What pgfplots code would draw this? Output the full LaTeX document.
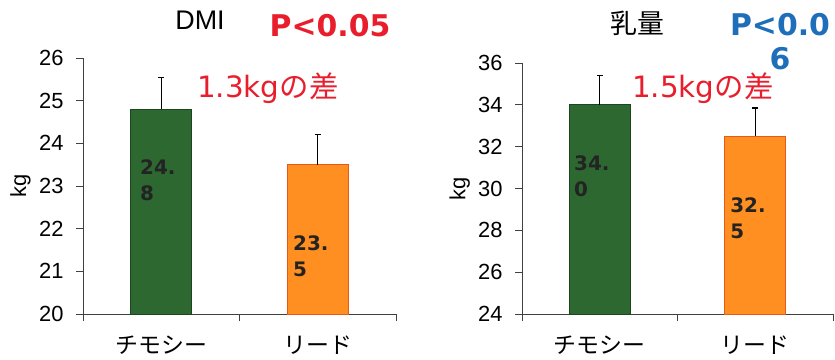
\documentclass[border=0pt]{standalone}
\usepackage{pgfplots}
\pgfplotsset{compat=1.18}
\usepackage{fontspec}
\setmainfont{Liberation Sans}
\newfontfamily\jpfont{Noto Sans CJK JP}
\newfontfamily\dejavu{DejaVu Sans}

\definecolor{barGreen}{RGB}{44,104,48}
\definecolor{barGreenEdge}{RGB}{28,70,32}
\definecolor{barOrange}{RGB}{255,143,32}
\definecolor{barOrangeEdge}{RGB}{232,88,24}
\definecolor{diffRed}{RGB}{232,30,45}
\definecolor{pBlue}{RGB}{30,110,185}
\definecolor{labelInk}{RGB}{35,35,35}

\pgfplotsset{
  cowbars/.style={
    scale only axis,
    anchor=south west,
    clip=false,
    axis x line=bottom, axis y line=left,
    axis line style={-, black!75, line width=0.8bp},
    tick align=outside,
    major tick length=7bp,
    tick style={black!75, line width=0.8bp},
    /pgf/number format/assume math mode=true,
    ticklabel style={font=\fontsize{22}{26}\selectfont},
    yticklabel style={xshift=-9bp},
    xmin=-0.5, xmax=1.5,
    xtick={-0.5,0.5,1.5},
    x tick label as interval,
    xticklabels={チモシー,リード},
    xticklabel style={font=\jpfont\fontsize{23}{27}\selectfont, yshift=-11bp},
    ylabel={kg},
    every axis y label/.style={at={(axis description cs:-0.2,0.5)}, rotate=90, anchor=center, font=\fontsize{22}{26}\selectfont},
    ybar, bar shift=0pt, bar width=0.39,
    error bars/y dir=plus, error bars/y explicit,
    error bars/error mark=-,
    error bars/error bar style={black, line width=1.2bp},
    error bars/error mark options={black, line width=1.2bp, mark size=3bp, rotate=90},
  },
}
\tikzset{
  inbar/.style={anchor=west, align=left, inner sep=0pt, text=labelInk,
    font=\dejavu\bfseries\fontsize{20}{26}\selectfont},
}

\begin{document}
\begin{tikzpicture}[x=1bp, y=1bp]
\useasboundingbox (0bp,0bp) rectangle (835bp,360bp);

% dry matter intake
\begin{axis}[cowbars, at={(83bp,46bp)}, width=313bp, height=256bp,
  ymin=20, ymax=26, ytick={20,21,...,26}]
  \addplot[fill=barGreen, draw=barGreenEdge, line width=1bp]
    coordinates {(0,24.8) +- (0,0.75)};
  \addplot[fill=barOrange, draw=barOrangeEdge, line width=1bp]
    coordinates {(1,23.5) +- (0,0.70)};
  \node[inbar] at (axis cs:-0.136,23.14) {24.\\8};
  \node[inbar] at (axis cs:0.842,21.35) {23.\\5};
\end{axis}

% milk yield
\begin{axis}[cowbars, at={(522bp,46bp)}, width=311bp, height=251bp,
  ymin=24, ymax=36, ytick={24,26,...,36}]
  \addplot[fill=barGreen, draw=barGreenEdge, line width=1bp]
    coordinates {(0,34.0) +- (0,1.40)};
  \addplot[fill=barOrange, draw=barOrangeEdge, line width=1bp]
    coordinates {(1,32.5) +- (0,1.35)};
  \node[inbar] at (axis cs:-0.166,30.6) {34.\\0};
  \node[inbar] at (axis cs:0.838,28.57) {32.\\5};
\end{axis}

% titles and annotations
\node[font=\fontsize{27}{31}\selectfont] at (200bp,340bp) {DMI};
\node[font=\jpfont\fontsize{27}{31}\selectfont] at (637bp,337bp) {乳量};
\node[text=diffRed, font=\dejavu\bfseries\fontsize{30}{34}\selectfont] at (330bp,334bp) {P<0.05};
\node[text=pBlue, align=center, inner sep=0pt, font=\dejavu\bfseries\fontsize{30}{34}\selectfont] at (780bp,318bp) {P<0.0\\6};
\node[anchor=west, inner sep=0pt, text=diffRed, font=\fontsize{29.5}{34}\selectfont] at (197bp,272bp) {\dejavu 1.3kg\jpfont の差};
\node[anchor=west, inner sep=0pt, text=diffRed, font=\fontsize{29.5}{34}\selectfont] at (632bp,272bp) {\dejavu 1.5kg\jpfont の差};
\end{tikzpicture}
\end{document}
